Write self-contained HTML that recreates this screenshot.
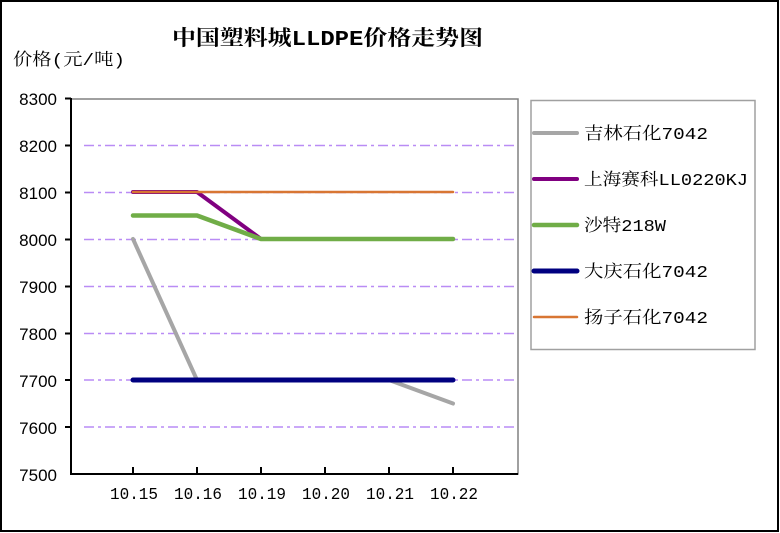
<!DOCTYPE html>
<html><head><meta charset="utf-8"><style>
html,body{margin:0;padding:0;background:#fff}
svg{display:block}
.s{font-family:"Liberation Mono","Noto Serif CJK SC",monospace}
.a{font-family:"Liberation Sans","Noto Sans CJK SC",sans-serif}
</style></head><body>
<svg width="780" height="533" viewBox="0 0 780 533" xmlns="http://www.w3.org/2000/svg">
<rect x="1" y="1" width="777" height="530" fill="#fff" stroke="#000" stroke-width="2"/>
<text x="172" y="45" class="s" font-size="21" font-weight="bold" fill="#000" textLength="311" lengthAdjust="spacingAndGlyphs">中国塑料城LLDPE价格走势图</text>
<text x="13" y="65" class="s" font-size="17" fill="#000" textLength="112" lengthAdjust="spacingAndGlyphs">价格(元/吨)</text>
<rect x="71" y="99" width="447" height="375" fill="none" stroke="#808080" stroke-width="1.5"/>
<g stroke="#b98cf5" stroke-width="1.5" stroke-dasharray="10,4,3,4">
<line x1="84" y1="145.5" x2="518" y2="145.5"/>
<line x1="84" y1="192.5" x2="518" y2="192.5"/>
<line x1="84" y1="239.5" x2="518" y2="239.5"/>
<line x1="84" y1="286.5" x2="518" y2="286.5"/>
<line x1="84" y1="333.5" x2="518" y2="333.5"/>
<line x1="84" y1="380" x2="518" y2="380"/>
<line x1="84" y1="427" x2="518" y2="427"/>
</g>
<g stroke="#000" stroke-width="2">
<line x1="71" y1="98" x2="71" y2="475"/>
<line x1="70" y1="474" x2="518" y2="474"/>
<line x1="65" y1="98.5" x2="71" y2="98.5"/>
<line x1="65" y1="145.5" x2="71" y2="145.5"/>
<line x1="65" y1="192.5" x2="71" y2="192.5"/>
<line x1="65" y1="239.5" x2="71" y2="239.5"/>
<line x1="65" y1="286.5" x2="71" y2="286.5"/>
<line x1="65" y1="333.5" x2="71" y2="333.5"/>
<line x1="65" y1="380" x2="71" y2="380"/>
<line x1="65" y1="427" x2="71" y2="427"/>
<line x1="133" y1="467" x2="133" y2="474"/>
<line x1="197" y1="467" x2="197" y2="474"/>
<line x1="261" y1="467" x2="261" y2="474"/>
<line x1="325" y1="467" x2="325" y2="474"/>
<line x1="389" y1="467" x2="389" y2="474"/>
<line x1="453" y1="467" x2="453" y2="474"/>
</g>
<g class="a" font-size="17" fill="#000" text-anchor="end">
<text x="57" y="105">8300</text><text x="57" y="152">8200</text><text x="57" y="199">8100</text>
<text x="57" y="246">8000</text><text x="57" y="293">7900</text><text x="57" y="340">7800</text>
<text x="57" y="387">7700</text><text x="57" y="434">7600</text><text x="57" y="481">7500</text>
</g>
<g class="s" font-size="17" fill="#000">
<text x="110" y="499" textLength="48" lengthAdjust="spacingAndGlyphs">10.15</text>
<text x="174" y="499" textLength="48" lengthAdjust="spacingAndGlyphs">10.16</text>
<text x="238" y="499" textLength="48" lengthAdjust="spacingAndGlyphs">10.19</text>
<text x="302" y="499" textLength="48" lengthAdjust="spacingAndGlyphs">10.20</text>
<text x="366" y="499" textLength="48" lengthAdjust="spacingAndGlyphs">10.21</text>
<text x="430" y="499" textLength="48" lengthAdjust="spacingAndGlyphs">10.22</text>
</g>
<g fill="none" stroke-linecap="round" stroke-linejoin="round">
<polyline points="133,239 197,380 389,380 453,403.5" stroke="#a6a6a6" stroke-width="4"/>
<polyline points="133,192 197,192 261,239 453,239" stroke="#800080" stroke-width="4"/>
<polyline points="133,215.5 197,215.5 261,239 453,239" stroke="#70ad47" stroke-width="4.5"/>
<polyline points="133,380 453,380" stroke="#000080" stroke-width="5"/>
<polyline points="133,192 453,192" stroke="#d87633" stroke-width="2.5"/>
</g>
<rect x="531" y="100.5" width="224" height="249" fill="#fff" stroke="#a0a0a0" stroke-width="1.5"/>
<g stroke-linecap="round">
<line x1="534" y1="133" x2="577" y2="133" stroke="#a6a6a6" stroke-width="4"/>
<line x1="534" y1="179" x2="577" y2="179" stroke="#800080" stroke-width="4"/>
<line x1="534" y1="225" x2="577" y2="225" stroke="#70ad47" stroke-width="4.5"/>
<line x1="534" y1="271" x2="577" y2="271" stroke="#000080" stroke-width="5"/>
<line x1="534" y1="317" x2="577" y2="317" stroke="#d87633" stroke-width="2.5"/>
</g>
<g class="s" font-size="17" fill="#000">
<text x="584" y="139" textLength="124" lengthAdjust="spacingAndGlyphs">吉林石化7042</text>
<text x="584" y="185" textLength="164" lengthAdjust="spacingAndGlyphs">上海赛科LL0220KJ</text>
<text x="584" y="231" textLength="82" lengthAdjust="spacingAndGlyphs">沙特218W</text>
<text x="584" y="277" textLength="124" lengthAdjust="spacingAndGlyphs">大庆石化7042</text>
<text x="584" y="323" textLength="124" lengthAdjust="spacingAndGlyphs">扬子石化7042</text>
</g>
</svg>
</body></html>
